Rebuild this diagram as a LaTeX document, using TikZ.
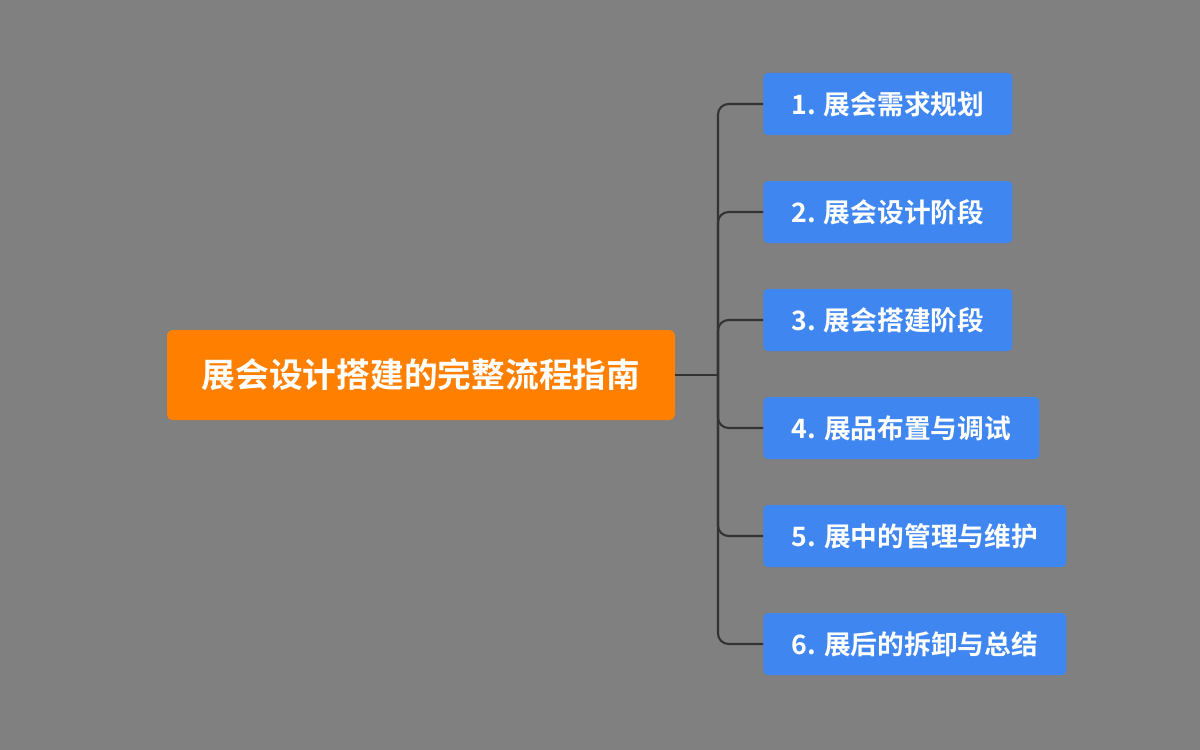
\documentclass[tikz,border=0pt]{standalone}
\usepackage{fontspec}
\setmainfont{Noto Sans CJK SC}[BoldFont={* Bold}]
\definecolor{bg}{HTML}{808080}
\definecolor{rootc}{HTML}{FF7F00}
\definecolor{kid}{HTML}{3F86F0}
\definecolor{ln}{HTML}{333333}
\begin{document}
\begin{tikzpicture}[x=0.02cm,y=-0.02cm,
  rootbox/.style={fill=rootc,rounded corners=3pt,text=white,font=\bfseries\fontsize{19.2pt}{22pt}\selectfont,minimum width=508*0.02cm,minimum height=90*0.02cm,inner sep=0pt},
  kidbox/.style={fill=kid,rounded corners=2.5pt,text=white,font=\bfseries\fontsize{15.2pt}{18pt}\selectfont,minimum height=62*0.02cm,inner sep=0pt,anchor=west},
  conn/.style={draw=ln,line width=1.2pt,rounded corners=6pt}]
\fill[bg] (0,0) rectangle (1200,750);
\useasboundingbox (0,0) rectangle (1200,750);
\node[rootbox] (r) at (421,375) {展会设计搭建的完整流程指南};
\node[kidbox,minimum width=249*0.02cm] (c1) at (763,104) {1. 展会需求规划};
\node[kidbox,minimum width=249*0.02cm] (c2) at (763,212) {2. 展会设计阶段};
\node[kidbox,minimum width=249*0.02cm] (c3) at (763,320) {3. 展会搭建阶段};
\node[kidbox,minimum width=276*0.02cm] (c4) at (763,428) {4. 展品布置与调试};
\node[kidbox,minimum width=303*0.02cm] (c5) at (763,536) {5. 展中的管理与维护};
\node[kidbox,minimum width=303*0.02cm] (c6) at (763,644) {6. 展后的拆卸与总结};
\coordinate (j) at (718,375);
\draw[draw=ln,line width=1.2pt] (r.east) -- (j);
\foreach \i in {1,...,6} \draw[conn] (j) |- (c\i.west);
\end{tikzpicture}
\end{document}
